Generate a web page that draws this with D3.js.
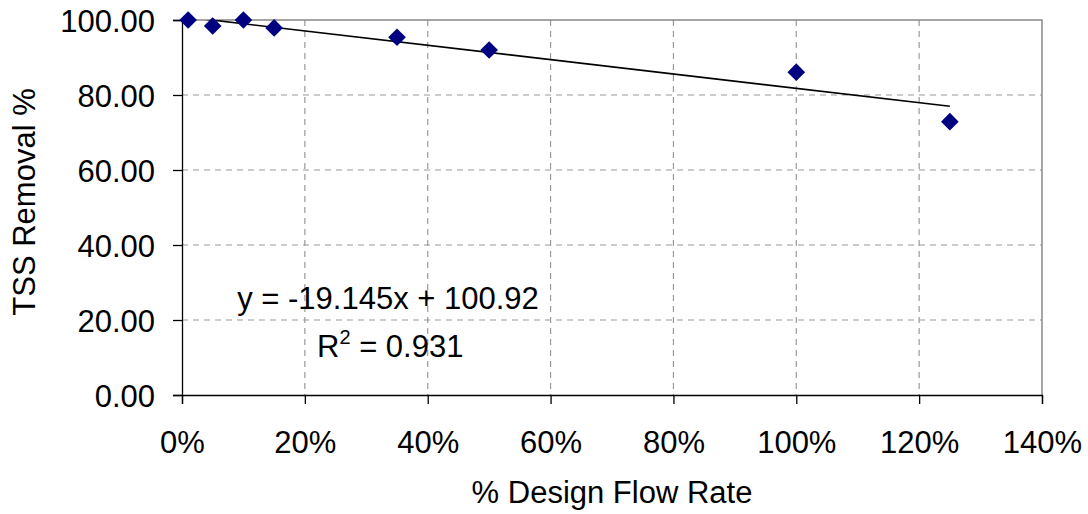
<!DOCTYPE html>
<html>
<head>
<meta charset="utf-8">
<script src="https://cdn.jsdelivr.net/npm/d3@7"></script>
<style>
  body { margin: 0; background: #fff; }
  svg { display: block; font-family: Arial, "Liberation Sans", sans-serif; }
</style>
</head>
<body>
<div class="chart"></div>
<script>
// data (x = fraction of design flow, y = TSS removal %)
const flowRates = [0.01, 0.05, 0.10, 0.15, 0.35, 0.50, 1.00, 1.25];
const tssRemoval = [100.0, 98.4, 100.0, 97.9, 95.4, 92.0, 86.1, 72.9];
const xTicks = [0, 0.2, 0.4, 0.6, 0.8, 1.0, 1.2, 1.4];
const yTicks = [0, 20, 40, 60, 80, 100];
const trendSlope = -19.145, trendIntercept = 100.92;
const trendLabel = "y = -19.145x + 100.92";
const r2Value = "0.931";

const W = 1088, H = 514;
const margin = {top: 20, right: 46, bottom: 119, left: 182};
const width = W - margin.left - margin.right,
      height = H - margin.top - margin.bottom;
const fs = "31px";

const svg = d3.select(".chart").append("svg")
  .attr("width", W).attr("height", H);

const g = svg.append("g")
  .attr("transform", `translate(${margin.left},${margin.top})`);

const x = d3.scaleLinear().domain([0, 1.4]).range([0, width]);
const y = d3.scaleLinear().domain([0, 100]).range([height, 0]);

// gridlines
g.append("g").selectAll("line.gx")
  .data(xTicks.filter(d => d > 0 && d < 1.4))
  .enter().append("line")
  .attr("x1", d => x(d)).attr("x2", d => x(d))
  .attr("y1", 0).attr("y2", height)
  .attr("stroke", "#999").attr("stroke-width", 1.2)
  .attr("stroke-dasharray", "6,5");

g.append("g").selectAll("line.gy")
  .data(yTicks.filter(d => d > 0 && d < 100))
  .enter().append("line")
  .attr("x1", 0).attr("x2", width)
  .attr("y1", d => y(d)).attr("y2", d => y(d))
  .attr("stroke", "#999").attr("stroke-width", 1.2)
  .attr("stroke-dasharray", "6,5");

// top & right border of plot area
g.append("path")
  .attr("d", `M0,0H${width}V${height}`)
  .attr("fill", "none").attr("stroke", "#888").attr("stroke-width", 1.5);

// axes
const xAxis = g.append("g")
  .attr("transform", `translate(0,${height})`)
  .call(d3.axisBottom(x).tickValues(xTicks).tickFormat(d3.format(".0%")).tickSize(9).tickPadding(27));
const yAxis = g.append("g")
  .call(d3.axisLeft(y).tickValues(yTicks).tickFormat(d3.format(".2f")).tickSize(9).tickPadding(18));

[xAxis, yAxis].forEach(a => {
  a.select(".domain").attr("stroke", "#000").attr("stroke-width", 1.3);
  a.selectAll(".tick line").attr("stroke", "#000").attr("stroke-width", 1.3);
  a.selectAll("text").attr("fill", "#000").style("font-size", fs)
    .style("font-family", "Arial, 'Liberation Sans', sans-serif");
});
yAxis.selectAll("text").attr("dy", "0.36em");
xAxis.selectAll("text").attr("dy", "0.71em");

// clip for trendline
svg.append("defs").append("clipPath").attr("id", "plotClip")
  .append("rect").attr("width", width).attr("height", height);

// linear trendline across data range
const xr = d3.extent(flowRates);
g.append("line")
  .attr("clip-path", "url(#plotClip)")
  .attr("x1", x(xr[0])).attr("y1", y(trendSlope * xr[0] + trendIntercept))
  .attr("x2", x(xr[1])).attr("y2", y(trendSlope * xr[1] + trendIntercept))
  .attr("stroke", "#000").attr("stroke-width", 1.6);

// diamond markers
const diamond = d3.symbol().type(d3.symbolSquare).size(156);
g.append("g").selectAll("path")
  .data(flowRates.map((v, i) => ({fx: v, ty: tssRemoval[i]})))
  .enter().append("path")
  .attr("d", diamond)
  .attr("transform", d => `translate(${x(d.fx)},${y(d.ty)}) rotate(45)`)
  .attr("fill", "#000080");

// trendline equation
g.append("text")
  .attr("x", 388 - margin.left).attr("y", 309 - margin.top)
  .attr("text-anchor", "middle")
  .style("font-size", fs)
  .text(trendLabel);

const r2 = g.append("text")
  .attr("x", 317 - margin.left).attr("y", 357 - margin.top)
  .style("font-size", fs);
r2.append("tspan").text("R");
r2.append("tspan").attr("dy", -13).style("font-size", "20px").text("2");
r2.append("tspan").attr("dy", 13).text(" = " + r2Value);

// axis titles
svg.append("text")
  .attr("x", margin.left + width / 2).attr("y", 503)
  .attr("text-anchor", "middle")
  .style("font-size", fs)
  .text("% Design Flow Rate");

svg.append("text")
  .attr("transform", `translate(35,202) rotate(-90)`)
  .attr("text-anchor", "middle")
  .style("font-size", fs)
  .text("TSS Removal %");
</script>
</body>
</html>
